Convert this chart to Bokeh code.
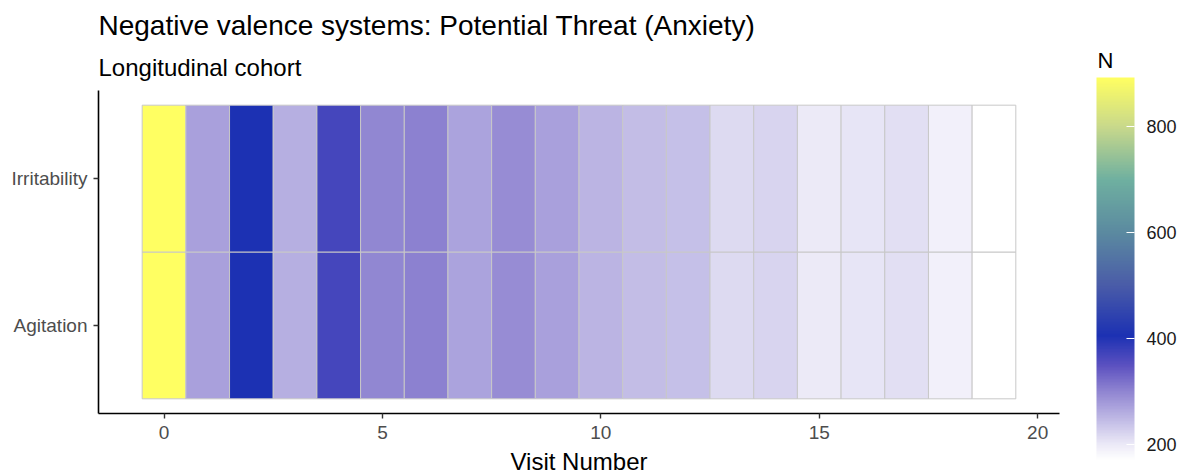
import numpy as np
from bokeh.plotting import figure
from bokeh.models import (ColumnDataSource, LinearColorMapper, Range1d, FixedTicker,
                          ColorBar, Title, Label)
from bokeh.transform import transform
from bokeh.embed import file_html
from bokeh.resources import INLINE

# ---- data -------------------------------------------------------------
visits = list(range(20))
symptoms = ["Agitation", "Irritability"]
agitation_n = [892, 272, 405, 259, 369, 299, 305, 271, 293, 272,
               254, 246, 241, 216, 223, 200, 206, 212, 192, 170]
irritability_n = [892, 272, 405, 259, 369, 299, 305, 271, 293, 272,
                  254, 246, 241, 216, 223, 200, 206, 212, 192, 170]
x_ticks = [0, 5, 10, 15, 20]
legend_ticks = [200, 400, 600, 800]

# ---- colour scale -----------------------------------------------------
stop_pos = [0.0, 0.0416, 0.18, 0.249, 0.325, 0.457, 0.596, 0.734, 0.873, 1.0]
stop_col = ["#ffffff", "#ebe9f7", "#8f84d1", "#5a50c0", "#1c31b3",
            "#4a5ca8", "#5b8aa0", "#6fb0a0", "#c9d98b", "#ffff62"]


def hex_rgb(h):
    h = h.lstrip("#")
    return [int(h[i:i + 2], 16) for i in (0, 2, 4)]


rgb = np.array([hex_rgb(c) for c in stop_col], dtype=float)
t = np.linspace(0, 1, 256)
palette = []
for k in range(256):
    r = np.interp(t[k], stop_pos, rgb[:, 0])
    g = np.interp(t[k], stop_pos, rgb[:, 1])
    b = np.interp(t[k], stop_pos, rgb[:, 2])
    palette.append("#%02x%02x%02x" % (int(round(r)), int(round(g)), int(round(b))))

all_n = agitation_n + irritability_n
n_min, n_max = min(all_n), max(all_n)
mapper = LinearColorMapper(palette=palette, low=n_min, high=n_max)

# ---- tiles ------------------------------------------------------------
xs, ys, ns = [], [], []
for row_idx, values in enumerate([agitation_n, irritability_n], start=1):
    for v, n in zip(visits, values):
        xs.append(v)
        ys.append(row_idx)
        ns.append(n)
src = ColumnDataSource(dict(x=xs, y=ys, n=ns))

FONT = "Liberation Sans"

p = figure(output_backend="svg", toolbar_location=None,
           x_range=Range1d(-1.5, 20.5), y_range=Range1d(0.4, 2.6),
           frame_width=961, frame_height=323,
           min_border_left=98, min_border_right=134, min_border_top=90,
           min_border_bottom=60, x_axis_location="below")
p.rect(x="x", y="y", width=1, height=1, source=src,
       fill_color=transform("n", mapper), line_color="#c8c8c8", line_width=1)

p.grid.visible = False
p.outline_line_color = None
p.background_fill_color = "white"
p.border_fill_color = "white"

for ax in (p.xaxis[0], p.yaxis[0]):
    ax.axis_line_color = "black"
    ax.axis_line_width = 1.6
    ax.major_tick_line_color = "#333333"
    ax.major_tick_line_width = 1.4
    ax.major_tick_out = 5
    ax.major_tick_in = 0
    ax.minor_tick_line_color = None
    ax.major_label_text_font = FONT
    ax.major_label_text_font_size = "19px"
    ax.major_label_text_color = "#4d4d4d"

p.xaxis.ticker = FixedTicker(ticks=x_ticks)
p.xaxis.major_label_standoff = 7
p.xaxis.axis_label = "Visit Number"
p.xaxis.axis_label_text_font = FONT
p.xaxis.axis_label_text_font_size = "24px"
p.xaxis.axis_label_text_font_style = "normal"
p.xaxis.axis_label_text_color = "black"
p.xaxis.axis_label_standoff = 6

p.yaxis.ticker = FixedTicker(ticks=[1, 2])
p.yaxis.major_label_overrides = {1: symptoms[0], 2: symptoms[1]}
p.yaxis.major_label_standoff = 6

# main title (outermost) and subtitle (next to the frame)
p.title.text = "Negative valence systems: Potential Threat (Anxiety)"
p.title.text_font = FONT
p.title.text_font_size = "28px"
p.title.text_font_style = "normal"
p.title.text_color = "black"
p.title.align = "left"
p.title.standoff = 4
p.add_layout(Title(text="Longitudinal cohort", text_font=FONT,
                   text_font_size="24px", text_font_style="normal",
                   text_color="black", align="left", standoff=19), "above")

# ---- colour bar (in the right-hand panel) -----------------------------
color_bar = ColorBar(color_mapper=mapper, ticker=FixedTicker(ticks=legend_ticks),
                     width=38, height=383, location=(37, -47),
                     padding=0, margin=0,
                     label_standoff=12,
                     major_label_text_font=FONT, major_label_text_font_size="18px",
                     major_label_text_color="#1a1a1a",
                     major_tick_line_color="white", major_tick_line_width=1.2,
                     major_tick_in=8, major_tick_out=0,
                     minor_tick_line_color=None,
                     bar_line_color=None, border_line_color=None,
                     background_fill_color=None)
p.add_layout(color_bar, "right")

# legend heading; its panel slot sits just outside the colour bar's slot,
# so the offset reaches back over the bar
p.add_layout(Label(x=-82, y=353, x_units="screen", y_units="screen", text="N",
                   text_font=FONT, text_font_size="22px", text_color="black",
                   text_baseline="alphabetic"), "right")

open("out.html", "w").write(file_html(p, INLINE))
